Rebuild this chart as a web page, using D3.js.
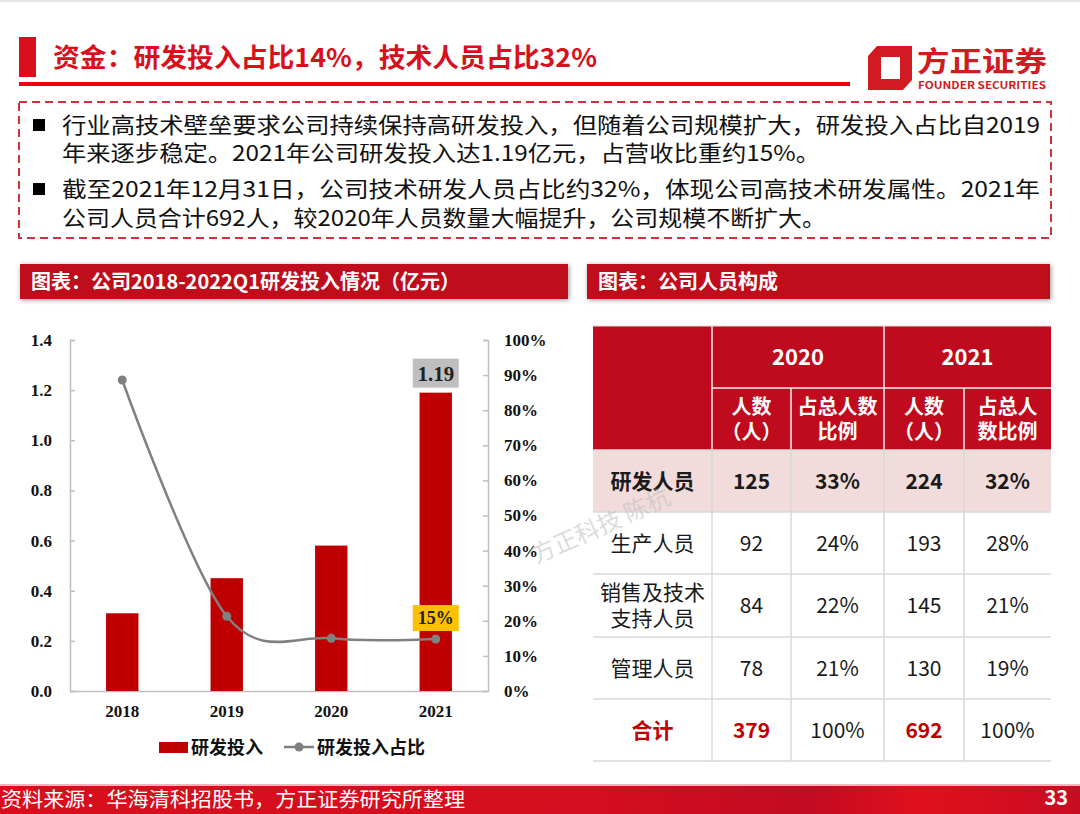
<!DOCTYPE html>
<html><head><meta charset="utf-8">
<script src="https://cdn.jsdelivr.net/npm/d3@7/dist/d3.min.js"></script>
<style>body{margin:0;background:#fff}svg{display:block}</style>
</head><body><svg id="c" width="1080" height="814"></svg>
<script>
// ---------- data ----------
const years = ['2018', '2019', '2020', '2021'];
const rdInvest = [0.31, 0.45, 0.58, 1.19];          // 亿元
const rdRatio = [88.6, 21.3, 15.0, 14.8];           // %
const leftTicks = [0, 0.2, 0.4, 0.6, 0.8, 1.0, 1.2, 1.4];
const rightTicks = [0, 10, 20, 30, 40, 50, 60, 70, 80, 90, 100];
const seriesNames = ['研发投入', '研发投入占比'];

const rowLabels = [['研发人员'], ['生产人员'], ['销售及技术', '支持人员'], ['管理人员'], ['合计']];
const count2020 = [125, 92, 84, 78, 379];
const pct2020 = ['33%', '24%', '22%', '21%', '100%'];
const count2021 = [224, 193, 145, 130, 692];
const pct2021 = ['32%', '28%', '21%', '19%', '100%'];
const tableYears = ['2020', '2021'];
const subHeads = [['人数', '（人）'], ['占总人数', '比例'], ['人数', '（人）'], ['占总人', '数比例']];

const titleText = '资金：研发投入占比14%，技术人员占比32%';
const bulletLines = [
  ['行业高技术壁垒要求公司持续保持高研发投入，但随着公司规模扩大，研发投入占比自2019', '年来逐步稳定。2021年公司研发投入达1.19亿元，占营收比重约15%。'],
  ['截至2021年12月31日，公司技术研发人员占比约32%，体现公司高技术研发属性。2021年', '公司人员合计692人，较2020年人员数量大幅提升，公司规模不断扩大。']
];
const leftHeader = '图表：公司2018-2022Q1研发投入情况（亿元）';
const rightHeader = '图表：公司人员构成';
const sourceText = '资料来源：华海清科招股书，方正证券研究所整理';
const pageNum = '33';

// ---------- setup ----------
const CJK = '"Noto Sans CJK SC", "Noto Sans", sans-serif';
const SERIF = '"Liberation Serif", "DejaVu Serif", serif';
const RED = '#C00A1E';
const svg = d3.select('#c');
const defs = svg.append('defs');
const f = defs.append('filter').attr('id', 'sh').attr('x', '-5%').attr('y', '-30%').attr('width', '110%').attr('height', '160%');
f.append('feDropShadow').attr('dx', 1).attr('dy', 1).attr('stdDeviation', 2.5).attr('flood-color', '#666').attr('flood-opacity', 0.7);
const g1 = defs.append('linearGradient').attr('id', 'foot').attr('x1', 0).attr('x2', 1);
[[0, '#D80E1C'], [0.55, '#D40E1E'], [0.75, '#C20B22'], [0.85, '#E0101C'], [1, '#C80C22']].forEach(s =>
  g1.append('stop').attr('offset', s[0]).attr('stop-color', s[1]));

svg.append('rect').attr('x', 0).attr('y', 0).attr('width', 1080).attr('height', 2).attr('fill', '#e4e4e4');

// ---------- title ----------
svg.append('rect').attr('x', 19).attr('y', 37).attr('width', 17).attr('height', 40).attr('fill', '#D9101C');
svg.append('text').attr('x', 53).attr('y', 67).attr('font-family', CJK).attr('font-weight', 700)
  .attr('font-size', 26).attr('fill', '#D9101C').attr('textLength', 544).attr('lengthAdjust', 'spacingAndGlyphs').text(titleText);
svg.append('rect').attr('x', 19).attr('y', 82).attr('width', 831).attr('height', 4).attr('fill', '#F00010');

// logo
const logo = svg.append('g');
logo.append('path').attr('d', 'M877,46 L912,46 L912,80 L903,90 L868,90 L868,56 Z').attr('fill', '#D21A22');
logo.append('path').attr('d', 'M881,57 L900,57 L900,79 L881,79 Z').attr('fill', '#fff');
logo.append('text').attr('x', 917).attr('y', 72).attr('font-family', CJK).attr('font-weight', 700).attr('font-size', 28)
  .attr('fill', '#D21A22').attr('textLength', 130).attr('lengthAdjust', 'spacingAndGlyphs').text('方正证券');
logo.append('text').attr('x', 918).attr('y', 89).attr('font-family', CJK).attr('font-weight', 700).attr('font-size', 10.5)
  .attr('fill', '#D21A22').attr('textLength', 128).attr('lengthAdjust', 'spacingAndGlyphs').text('FOUNDER SECURITIES');

// ---------- bullet box ----------
svg.append('rect').attr('x', 19).attr('y', 102).attr('width', 1032).attr('height', 136).attr('fill', 'none')
  .attr('stroke', '#D0303A').attr('stroke-width', 2).attr('stroke-dasharray', '8,5');
const lineYs = [[125, 153], [189, 218]];
const lineW = [[978, 758], [978, 764]];
bulletLines.forEach((ls, i) => {
  svg.append('rect').attr('x', 33).attr('y', lineYs[i][0] - 6).attr('width', 12).attr('height', 12).attr('fill', '#000');
  ls.forEach((t, j) => {
    svg.append('text').attr('x', 62).attr('y', lineYs[i][j]).attr('dy', '0.36em').attr('font-family', CJK)
      .attr('font-size', 22).attr('fill', '#111').attr('textLength', lineW[i][j]).attr('lengthAdjust', 'spacingAndGlyphs').text(t);
  });
});

// ---------- section headers ----------
[[20, 548, leftHeader], [587, 463, rightHeader]].forEach(([x, w, t]) => {
  svg.append('rect').attr('x', x).attr('y', 264).attr('width', w).attr('height', 35).attr('fill', RED).attr('filter', 'url(#sh)');
  svg.append('text').attr('x', x + 11).attr('y', 282).attr('dy', '0.36em').attr('font-family', CJK).attr('font-weight', 700)
    .attr('font-size', 20).attr('fill', '#fff').text(t);
});

// ---------- chart ----------
const plot = { l: 70, r: 488, t: 340, b: 691 };
const x = d3.scaleBand().domain(years).range([plot.l, plot.r]).paddingInner(0.69).paddingOuter(0.345);
const yL = d3.scaleLinear().domain([0, 1.4]).range([plot.b, plot.t]);
const yR = d3.scaleLinear().domain([0, 100]).range([plot.b, plot.t]);
const ch = svg.append('g');

const axL = ch.append('g').attr('transform', `translate(${plot.l},0)`)
  .call(d3.axisRight(yL).tickValues(leftTicks).tickSize(5).tickFormat(''));
const axR = ch.append('g').attr('transform', `translate(${plot.r},0)`)
  .call(d3.axisLeft(yR).tickValues(rightTicks).tickSize(5).tickFormat(''));
const axB = ch.append('g').attr('transform', `translate(0,${plot.b})`)
  .call(d3.axisBottom(x).tickSize(0).tickPadding(14));
[axL, axR, axB].forEach(a => { a.selectAll('path,line').attr('stroke', '#BFBFBF').attr('stroke-width', 1.5); });
axB.selectAll('text').attr('font-family', SERIF).attr('font-weight', 700).attr('font-size', 17).attr('fill', '#111');

ch.append('g').selectAll('text').data(leftTicks).join('text')
  .attr('x', 52).attr('y', d => yL(d)).attr('dy', '0.35em').attr('text-anchor', 'end')
  .attr('font-family', SERIF).attr('font-weight', 700).attr('font-size', 17).attr('fill', '#111')
  .text(d => d3.format('.1f')(d));
ch.append('g').selectAll('text').data(rightTicks).join('text')
  .attr('x', 504).attr('y', d => yR(d)).attr('dy', '0.35em')
  .attr('font-family', SERIF).attr('font-weight', 700).attr('font-size', 17).attr('fill', '#111')
  .text(d => d + '%');

ch.append('g').selectAll('rect').data(rdInvest).join('rect')
  .attr('x', (d, i) => x(years[i])).attr('width', x.bandwidth())
  .attr('y', d => yL(d)).attr('height', d => plot.b - yL(d)).attr('fill', '#C00000');

const lineGen = d3.line().x((d, i) => x(years[i]) + x.bandwidth() / 2).y(d => yR(d)).curve(d3.curveCardinal.tension(0));
ch.append('path').datum(rdRatio).attr('d', lineGen).attr('fill', 'none').attr('stroke', '#808080').attr('stroke-width', 2.5);
ch.append('g').selectAll('circle').data(rdRatio).join('circle')
  .attr('cx', (d, i) => x(years[i]) + x.bandwidth() / 2).attr('cy', d => yR(d)).attr('r', 4.5).attr('fill', '#808080');

// data labels
const lastI = years.length - 1;
const cx = x(years[lastI]) + x.bandwidth() / 2;
ch.append('rect').attr('x', cx - 23).attr('y', yL(rdInvest[lastI]) - 34).attr('width', 46).attr('height', 29).attr('fill', '#BFBFBF');
ch.append('text').attr('x', cx).attr('y', yL(rdInvest[lastI]) - 19).attr('dy', '0.35em').attr('text-anchor', 'middle')
  .attr('font-family', SERIF).attr('font-weight', 700).attr('font-size', 21).attr('fill', '#222').text(rdInvest[lastI].toFixed(2));
ch.append('rect').attr('x', cx - 23).attr('y', yR(rdRatio[lastI]) - 34).attr('width', 46).attr('height', 26).attr('fill', '#FFC000');
ch.append('text').attr('x', cx).attr('y', yR(rdRatio[lastI]) - 21).attr('dy', '0.35em').attr('text-anchor', 'middle')
  .attr('font-family', SERIF).attr('font-weight', 700).attr('font-size', 18).attr('fill', '#222').text(Math.round(rdRatio[lastI]) + '%');

// legend
const lg = ch.append('g');
lg.append('rect').attr('x', 159).attr('y', 742).attr('width', 29).attr('height', 11).attr('fill', '#C00000');
lg.append('text').attr('x', 191).attr('y', 748).attr('dy', '0.36em').attr('font-family', CJK).attr('font-weight', 700)
  .attr('font-size', 18).attr('fill', '#111').text(seriesNames[0]);
lg.append('line').attr('x1', 284).attr('x2', 314).attr('y1', 747).attr('y2', 747).attr('stroke', '#808080').attr('stroke-width', 2.5);
lg.append('circle').attr('cx', 299).attr('cy', 747).attr('r', 4.5).attr('fill', '#808080');
lg.append('text').attr('x', 317).attr('y', 748).attr('dy', '0.36em').attr('font-family', CJK).attr('font-weight', 700)
  .attr('font-size', 18).attr('fill', '#111').text(seriesNames[1]);

// ---------- table ----------
const colX = [593, 712, 791, 884, 964, 1051];
const rowY = [326, 388, 450, 512, 574, 637, 699, 761];
const tb = svg.append('g');
tb.append('rect').attr('x', colX[0]).attr('y', rowY[0]).attr('width', colX[5] - colX[0]).attr('height', rowY[2] - rowY[0]).attr('fill', RED);
tb.append('rect').attr('x', colX[0]).attr('y', rowY[2]).attr('width', colX[5] - colX[0]).attr('height', rowY[3] - rowY[2]).attr('fill', '#F2DCDB');
const wl = (x1, y1, x2, y2, c, w) => tb.append('line').attr('x1', x1).attr('y1', y1).attr('x2', x2).attr('y2', y2).attr('stroke', c).attr('stroke-width', w);
wl(colX[1], rowY[0], colX[1], rowY[2], '#F0F0F0', 1.5);
wl(colX[3], rowY[0], colX[3], rowY[2], '#F0F0F0', 1.5);
wl(colX[2], rowY[1], colX[2], rowY[2], '#F0F0F0', 1.5);
wl(colX[4], rowY[1], colX[4], rowY[2], '#F0F0F0', 1.5);
wl(colX[1], rowY[1], colX[5], rowY[1], '#F0F0F0', 1.5);
for (let r = 2; r < rowY.length; r++) wl(colX[0], rowY[r], colX[5], rowY[r], '#D9D9D9', 1.5);
for (let c = 1; c < 5; c++) wl(colX[c], rowY[2], colX[c], rowY[7], '#D9D9D9', 1.5);
wl(colX[0], rowY[0], colX[5], rowY[0], '#E0E0E0', 1);

const mid = (a, b) => (a + b) / 2;
const tt = (xx, yy, t, o = {}) => tb.append('text').attr('x', xx).attr('y', yy).attr('dy', '0.36em').attr('text-anchor', 'middle')
  .attr('font-family', CJK).attr('font-size', o.size || 21).attr('font-weight', o.bold ? 700 : 400).attr('fill', o.fill || '#1a1a1a').text(t);
tableYears.forEach((yy, i) => tt(mid(colX[1 + 2 * i], colX[3 + 2 * i]), mid(rowY[0], rowY[1]), yy, { bold: true, fill: '#fff', size: 22 }));
subHeads.forEach((s, i) => {
  const cxx = mid(colX[1 + i], colX[2 + i]);
  tt(cxx, 407, s[0], { bold: true, fill: '#fff', size: 20 });
  tt(cxx, 432, s[1], { bold: true, fill: '#fff', size: 20 });
});
rowLabels.forEach((lab, r) => {
  const y0 = rowY[2 + r], y1 = rowY[3 + r], cy = mid(y0, y1);
  const isRD = r === 0, isTot = r === rowLabels.length - 1;
  const labStyle = { bold: isRD || isTot, fill: isTot ? '#C00000' : '#1a1a1a' };
  if (lab.length === 1) tt(mid(colX[0], colX[1]), cy, lab[0], labStyle);
  else lab.forEach((l, k) => tt(mid(colX[0], colX[1]), cy - 13 + 26 * k, l, labStyle));
  const cntStyle = { bold: isRD || isTot, fill: isTot ? '#C00000' : '#1a1a1a' };
  const pctStyle = { bold: isRD, fill: '#1a1a1a' };
  tt(mid(colX[1], colX[2]), cy, count2020[r], cntStyle);
  tt(mid(colX[2], colX[3]), cy, pct2020[r], pctStyle);
  tt(mid(colX[3], colX[4]), cy, count2021[r], cntStyle);
  tt(mid(colX[4], colX[5]), cy, pct2021[r], pctStyle);
});

// watermark
svg.append('text').attr('transform', 'translate(536,564) rotate(-24)').attr('font-family', CJK).attr('font-size', 24)
  .attr('fill', '#bdbdbd').attr('fill-opacity', 0.55).text('方正科技 陈杭');

// ---------- footer ----------
svg.append('rect').attr('x', 0).attr('y', 784).attr('width', 1080).attr('height', 2).attr('fill', '#EBB8BC');
svg.append('rect').attr('x', 0).attr('y', 786).attr('width', 1080).attr('height', 28).attr('fill', 'url(#foot)');
svg.append('text').attr('x', 1).attr('y', 800).attr('dy', '0.36em').attr('font-family', CJK).attr('font-size', 20)
  .attr('fill', '#fff').attr('textLength', 464).attr('lengthAdjust', 'spacingAndGlyphs').text(sourceText);
svg.append('text').attr('x', 1068).attr('y', 798).attr('dy', '0.36em').attr('text-anchor', 'end').attr('font-family', CJK)
  .attr('font-weight', 700).attr('font-size', 20).attr('fill', '#fff').text(pageNum);
</script></body></html>
